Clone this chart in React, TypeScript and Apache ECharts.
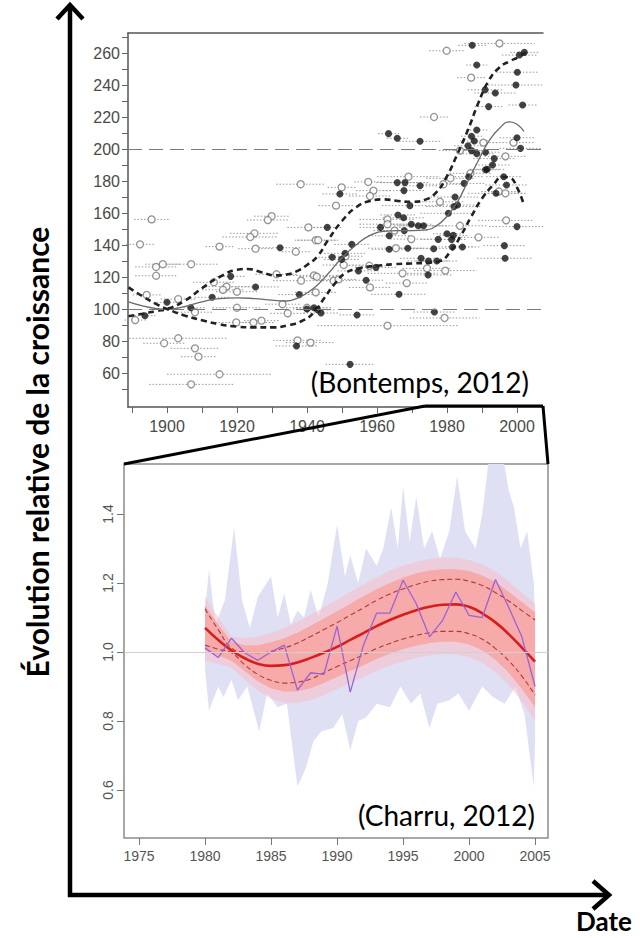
import React, { useEffect, useRef } from "react";
import * as echarts from "echarts";

// ---------- Top chart (Bontemps, 2012) ----------
const topXTicks = [1890, 1900, 1910, 1920, 1930, 1940, 1950, 1960, 1970, 1980, 1990, 2000];
const topXLabels = [1900, 1920, 1940, 1960, 1980, 2000];
const topYTicks = [50, 60, 70, 80, 90, 100, 110, 120, 130, 140, 150, 160, 170, 180, 190, 200, 210, 220, 230, 240, 250, 260, 270];
const topYLabels = [60, 80, 100, 120, 140, 160, 180, 200, 220, 240, 260];
const refLevels = [100, 200];

// [year, value, half-width of the dotted date interval]
const openPoints: [number, number, number][] = [
  [1895.6, 156, 5], [1929.9, 158, 5], [1928.8, 155.6, 6], [1938.2, 178, 7], [1940.4, 151, 6],
  [1995, 266, 10], [1979.9, 261.4, 5], [1986.9, 244.6, 4], [1976.3, 220, 4], [1990.4, 204, 4],
  [1983.7, 199, 6], [1999, 204, 6], [1996.7, 195.4, 6], [1986.7, 184.8, 6], [1994.8, 173.4, 5],
  [1996.7, 172.3, 6], [1981, 181.7, 7], [1979, 178, 6], [1969, 182.7, 9], [1957.5, 179.4, 4],
  [1949.9, 176, 4], [1959, 174, 5], [1958, 170.6, 6], [1948.3, 164.6, 5], [1978, 167, 7],
  [1996.9, 155.4, 8], [1963, 156, 8], [1963, 153, 8], [1983.7, 152, 8], [1892.3, 140.4, 4],
  [1896.9, 126.3, 6], [1898.8, 128, 5], [1906.9, 128, 8], [1896.9, 120.8, 6], [1894.2, 108.8, 4],
  [1903.2, 106.2, 5], [1908, 98, 5], [1890.9, 93.1, 3], [1903.2, 81.7, 14], [1899.2, 78.6, 6],
  [1908, 75.4, 7], [1909, 70.2, 5], [1915, 59.2, 15], [1906.9, 52.9, 12], [1913.4, 116.7, 6],
  [1917, 114, 7], [1916, 112, 6], [1920, 110.8, 6], [1915, 139, 4], [1920, 100.8, 7],
  [1919.8, 91.6, 6], [1924.7, 91.6, 6], [1927, 92.7, 5], [1925, 147.3, 7], [1923.8, 145, 8],
  [1925.3, 137.7, 5], [1936.8, 135.8, 4], [1942.5, 143, 6], [1931.3, 121.7, 6], [1938.3, 117.7, 8],
  [1942, 121, 7], [1933, 103, 5], [1934.5, 97.3, 5], [1940, 100.8, 6], [1942.5, 110.4, 6],
  [1937.3, 80.4, 7], [1941, 79, 7], [1943.2, 143, 6], [1951, 133, 5], [1950.5, 127.5, 6],
  [1957.8, 127, 6], [1942.8, 120.2, 5], [1947.6, 117.7, 5], [1949, 118.5, 5], [1958, 113.5, 6],
  [1967.3, 122.3, 10], [1968.5, 116.2, 6], [1974.3, 125.4, 7], [1979.5, 124, 9], [1979.3, 94.4, 10],
  [1963, 89.6, 20], [1965, 149, 6], [1969.8, 143.7, 6], [1965.4, 138, 8], [1989, 144.8, 6],
];

const filledPoints: [number, number, number][] = [
  [1987.2, 264.8, 4], [2000.7, 258.7, 5], [2002.1, 260.4, 4], [1988.5, 252.5, 3], [2000.1, 248, 6],
  [1999.7, 240, 8], [1990.9, 237, 5], [1993.8, 235, 6], [1991.9, 226.5, 4], [2001.6, 227.5, 4],
  [1963.3, 209.6, 3], [1965.8, 206.7, 3], [1972.3, 204.8, 6], [1988.5, 211.9, 3], [1987, 208, 3],
  [1987.8, 205, 4], [1986, 202, 4], [1987, 199, 5], [1988.5, 197, 5], [1991, 198, 4],
  [2000, 207, 5], [2001, 200.4, 6], [1993.5, 194, 6], [1993, 190, 5], [1991.5, 187.3, 5],
  [1991, 187, 4], [1986.2, 182.7, 4], [1996.2, 182.7, 5], [1997, 177.5, 6], [1994, 172.3, 8],
  [1984.9, 178.5, 6], [1965.8, 179, 6], [1968, 179, 7], [1967.7, 174, 6], [1972.3, 177, 5],
  [1949.4, 171.9, 5], [1982.3, 170, 7], [1983, 165, 6], [1982, 164, 8], [1980.4, 159.8, 8],
  [1969.4, 164.6, 8], [2000, 151.5, 8], [1966, 158.8, 5], [1967.6, 157, 6], [1969.8, 153, 6],
  [1971.8, 152, 7], [1973.3, 152, 7], [1945.8, 151, 4], [1961, 151, 6], [1900, 104.2, 3],
  [1906.8, 100.8, 4], [1893.7, 95.8, 3], [1912.9, 107.3, 5], [1918.2, 120.4, 4], [1925.3, 113.8, 7],
  [1932.3, 138.3, 6], [1937.8, 109, 6], [1942, 100.8, 5], [1937, 76.9, 6], [1952.8, 140.4, 5],
  [1950.9, 134.8, 6], [1947.2, 132.3, 4], [1949.9, 131, 5], [1954.7, 123.8, 6], [1959.7, 126, 6],
  [1956.9, 118, 5], [1966.3, 109.2, 8], [1940, 100, 4], [1943, 99.5, 5], [1944, 97.5, 5],
  [1954.3, 96.3, 5], [1976.4, 98.1, 6], [1952.3, 65.4, 7], [1963.5, 145.8, 6], [1967.8, 149, 7],
  [1977.5, 143.5, 5], [1963.5, 137.3, 5], [1968.8, 138, 6], [1976.2, 137.7, 6], [1981.6, 138.8, 6],
  [1984.4, 138.8, 5], [1981.3, 143.5, 4], [1980, 147, 4], [1981.8, 146, 4], [1996.4, 139.6, 6],
  [1996.6, 131.7, 8], [1972.6, 131.7, 6], [1974.7, 130, 6], [1977.1, 130, 6], [1974.6, 121.3, 7],
];

const meanCurve: [number, number][] = [
  [1889, 104.5], [1893, 102], [1897, 100.3], [1900, 99.8], [1905, 101.5], [1910, 104.5], [1915, 106.5],
  [1920, 107], [1925, 106.5], [1930, 105.5], [1934, 105], [1937, 106.5], [1940, 110], [1943, 115],
  [1946, 122], [1950, 132], [1954, 140], [1958, 146], [1962, 148.5], [1966, 149], [1970, 149],
  [1974, 149.5], [1977, 152], [1980, 158], [1983, 167], [1986, 180], [1989, 193], [1992, 205],
  [1995, 213], [1998, 217], [2000, 215.5], [2002, 211],
];
const upperCurve: [number, number][] = [
  [1889, 95.5], [1893, 97], [1897, 98.8], [1900, 100], [1905, 105], [1910, 113], [1915, 120],
  [1920, 124.5], [1923, 125], [1927, 123], [1931, 121], [1934, 121.5], [1937, 123.5], [1940, 127.5],
  [1943, 133], [1946, 143], [1950, 155], [1954, 163.5], [1958, 167.5], [1962, 168.5], [1966, 167.5],
  [1970, 167], [1974, 168.5], [1977, 173], [1980, 183], [1983, 197], [1986, 212], [1989, 229],
  [1992, 243], [1995, 251], [1998, 255], [2000, 257], [2003, 261],
];
const lowerCurve: [number, number][] = [
  [1889, 113.5], [1893, 108], [1897, 103], [1900, 100], [1905, 96], [1910, 93], [1915, 90.5],
  [1920, 89], [1925, 88.5], [1930, 88.5], [1935, 90], [1939, 93], [1942, 98], [1945, 107],
  [1948, 116], [1951, 122.5], [1955, 125.5], [1960, 127], [1965, 128], [1970, 128.5], [1975, 129],
  [1978, 130], [1981, 136], [1984, 146], [1987, 158], [1990, 169], [1993, 177], [1996, 182.5],
  [1998, 182], [2000, 176], [2002, 165],
];

// ---------- Bottom chart (Charru, 2012) ----------
const bottomXTicks = [1975, 1980, 1985, 1990, 1995, 2000, 2005];
const bottomYTicks = [0.6, 0.8, 1.0, 1.2, 1.4];
const years = [1980, 1981, 1982, 1983, 1984, 1985, 1986, 1987, 1988, 1989, 1990, 1991, 1992,
  1993, 1994, 1995, 1996, 1997, 1998, 1999, 2000, 2001, 2002, 2003, 2004, 2005];
const fittedMean = [1.07, 1.035, 1.005, 0.982, 0.966, 0.96, 0.962, 0.97, 0.983, 0.998, 1.015, 1.035, 1.055,
  1.075, 1.093, 1.108, 1.121, 1.131, 1.137, 1.138, 1.131, 1.112, 1.086, 1.052, 1.013, 0.972];
const ciUpper = [1.125, 1.065, 1.012, 1.0, 0.998, 1.002, 1.012, 1.026, 1.045, 1.065, 1.085, 1.107, 1.128,
  1.15, 1.168, 1.183, 1.196, 1.205, 1.21, 1.211, 1.205, 1.193, 1.172, 1.148, 1.12, 1.093];
const ciLower = [1.02, 1.008, 0.998, 0.963, 0.935, 0.918, 0.91, 0.913, 0.922, 0.94, 0.958, 0.975, 0.992,
  1.01, 1.025, 1.038, 1.048, 1.056, 1.06, 1.06, 1.053, 1.037, 1.01, 0.975, 0.93, 0.875];
const pinkUpper = [1.135, 1.08, 1.03, 1.02, 1.02, 1.028, 1.04, 1.056, 1.076, 1.097, 1.118, 1.14, 1.162,
  1.183, 1.2, 1.215, 1.228, 1.236, 1.24, 1.24, 1.235, 1.222, 1.203, 1.175, 1.145, 1.115];
const pinkLower = [1.005, 0.99, 0.975, 0.945, 0.915, 0.895, 0.885, 0.886, 0.895, 0.91, 0.928, 0.945, 0.962,
  0.98, 0.995, 1.008, 1.018, 1.026, 1.03, 1.03, 1.022, 1.005, 0.978, 0.94, 0.893, 0.84];
const haloUpper = [1.16, 1.1, 1.045, 1.04, 1.045, 1.055, 1.07, 1.088, 1.108, 1.13, 1.152, 1.174, 1.196,
  1.217, 1.236, 1.25, 1.262, 1.27, 1.274, 1.273, 1.267, 1.254, 1.234, 1.205, 1.172, 1.14];
const haloLower = [0.975, 0.965, 0.955, 0.92, 0.888, 0.865, 0.853, 0.852, 0.86, 0.875, 0.893, 0.91, 0.927,
  0.945, 0.96, 0.973, 0.983, 0.99, 0.994, 0.993, 0.985, 0.968, 0.942, 0.905, 0.857, 0.8];
const observed = [1.012, 0.984, 1.04, 0.998, 0.976, 1.0, 1.02, 0.89, 0.94, 0.935, 1.075, 0.884, 1.02,
  1.113, 1.113, 1.208, 1.14, 1.044, 1.092, 1.174, 1.106, 1.1, 1.21, 1.13, 1.044, 0.9];

const lavenderUpper: [number, number][] = [
  [1980, 1.12], [1980.3, 1.24], [1980.8, 1.08], [1981.5, 1.15], [1982.2, 1.36], [1982.8, 1.15],
  [1983.4, 1.07], [1984, 1.16], [1985, 1.22], [1985.5, 1.1], [1986, 1.17], [1986.5, 1.08], [1987, 1.12],
  [1987.5, 1.1], [1988, 1.18], [1988.6, 1.1], [1989.3, 1.2], [1990, 1.37], [1990.6, 1.22], [1991, 1.28],
  [1991.6, 1.2], [1992.2, 1.3], [1993, 1.25], [1993.5, 1.3], [1994.1, 1.42], [1994.6, 1.3], [1995, 1.48],
  [1995.5, 1.32], [1996, 1.45], [1996.6, 1.3], [1997.2, 1.35], [1997.8, 1.27], [1998.5, 1.35],
  [1999.1, 1.51], [1999.7, 1.35], [2000.5, 1.3], [2001, 1.4], [2001.5, 1.56], [2002.6, 1.56],
  [2003, 1.47], [2003.4, 1.42], [2003.9, 1.3], [2004.4, 1.35], [2004.9, 1.2], [2005, 1.1],
];
const lavenderLower: [number, number][] = [
  [1980, 0.95], [1980.3, 0.83], [1981, 0.9], [1981.4, 0.87], [1982, 0.92], [1982.5, 0.86], [1983.2, 0.9],
  [1984.1, 0.77], [1984.7, 0.88], [1985.5, 0.84], [1986.2, 0.85], [1987, 0.61], [1987.6, 0.66],
  [1988.2, 0.74], [1988.8, 0.77], [1989.7, 0.78], [1990.4, 0.82], [1991, 0.715], [1991.6, 0.8],
  [1992.2, 0.81], [1993, 0.85], [1994, 0.84], [1994.8, 0.9], [1995.6, 0.85], [1996.3, 0.88], [1997, 0.78],
  [1997.6, 0.85], [1998.5, 0.86], [1999.2, 0.88], [2000, 0.83], [2001, 0.9], [2001.8, 0.87],
  [2002.7, 0.85], [2003.5, 0.9], [2004.2, 0.82], [2004.9, 0.61], [2005, 0.75],
];

const zip = (xs: number[], ys: number[]) => xs.map((x, i) => [x, ys[i]] as [number, number]);

const polygonSeries = (upper: [number, number][], lower: [number, number][], fill: string, extra: any = {}) => ({
  type: "custom",
  xAxisIndex: 2,
  yAxisIndex: 1,
  clip: true,
  silent: true,
  data: [upper[0]],
  renderItem: (_p: any, api: any) => {
    const pts = upper.map((p) => api.coord(p)).concat(lower.slice().reverse().map((p) => api.coord(p)));
    return { type: "polygon", shape: { points: pts }, style: { fill } };
  },
  ...extra,
});

const App: React.FC = () => {
  const ref = useRef<HTMLDivElement>(null);
  useEffect(() => {
    if (!ref.current) return;
    const chart = echarts.init(ref.current, undefined, { renderer: "svg" });
    const tickFont = "Liberation Sans";
    const errorBars = [...openPoints, ...filledPoints];

    const option: any = {
      animation: false,
      backgroundColor: "#ffffff",
      grid: [
        { left: 128, top: 33, width: 415, height: 374 },
        { left: 124, top: 464, width: 424, height: 374, show: true, borderColor: "#8c8c8c", borderWidth: 1.5 },
      ],
      xAxis: [
        {
          gridIndex: 0, type: "value", min: 1888.86, max: 2007.43,
          axisLine: { show: true, lineStyle: { color: "#555", width: 1.5 } },
          axisTick: { show: true, customValues: topXTicks, length: 6, lineStyle: { color: "#666" } },
          axisLabel: { customValues: topXLabels, formatter: (v: number) => String(v), fontSize: 16, color: "#4a4a4a", fontFamily: tickFont, margin: 11 },
          splitLine: { show: false },
        },
        {
          gridIndex: 0, type: "value", position: "top", min: 1888.86, max: 2007.43,
          axisLine: { show: true, lineStyle: { color: "#555", width: 1.5 } },
          axisTick: { show: false }, axisLabel: { show: false }, splitLine: { show: false },
        },
        {
          gridIndex: 1, type: "value", min: 1973.86, max: 2005.98,
          axisLine: { show: false },
          axisTick: { show: true, customValues: bottomXTicks, length: 7, lineStyle: { color: "#777" } },
          axisLabel: { customValues: bottomXTicks, formatter: (v: number) => String(v), fontSize: 14, color: "#555", fontFamily: tickFont, margin: 11 },
          splitLine: { show: false },
        },
      ],
      yAxis: [
        {
          gridIndex: 0, type: "value", min: 38.75, max: 272.5,
          axisLine: { show: true, lineStyle: { color: "#555", width: 1.5 } },
          axisTick: { show: true, customValues: topYTicks, length: 6, lineStyle: { color: "#666" } },
          axisLabel: { customValues: topYLabels, formatter: (v: number) => String(v), fontSize: 16, color: "#4a4a4a", fontFamily: tickFont, margin: 8 },
          splitLine: { show: false },
        },
        {
          gridIndex: 1, type: "value", min: 0.461, max: 1.545,
          axisLine: { show: false },
          axisTick: { show: true, customValues: bottomYTicks, length: 7, lineStyle: { color: "#777" } },
          axisLabel: { customValues: bottomYTicks, formatter: (v: number) => v.toFixed(1), rotate: 90, fontSize: 14, color: "#555", fontFamily: tickFont, margin: 9 },
          splitLine: { show: false },
        },
      ],
      series: [
        // ---- top chart
        {
          type: "custom", xAxisIndex: 0, yAxisIndex: 0, silent: true,
          data: errorBars,
          encode: { x: 0, y: 1 },
          renderItem: (_p: any, api: any) => {
            const x = api.value(0), y = api.value(1), hw = api.value(2);
            const a = api.coord([x - hw, y]);
            const b = api.coord([x + hw, y]);
            return { type: "line", shape: { x1: a[0], y1: a[1], x2: b[0], y2: b[1] }, style: { stroke: "#9a9a9a", lineWidth: 1, lineDash: [1.5, 1.8] } };
          },
        },
        {
          type: "scatter", xAxisIndex: 0, yAxisIndex: 0, symbol: "circle", symbolSize: 7, silent: true,
          data: openPoints.map((p) => [p[0], p[1]]),
          itemStyle: { color: "#ffffff", borderColor: "#7a7a7a", borderWidth: 1.3 },
        },
        {
          type: "scatter", xAxisIndex: 0, yAxisIndex: 0, symbol: "circle", symbolSize: 7, silent: true,
          data: filledPoints.map((p) => [p[0], p[1]]),
          itemStyle: { color: "#141414" },
        },
        {
          type: "line", xAxisIndex: 0, yAxisIndex: 0, data: meanCurve, smooth: true, showSymbol: false, silent: true,
          lineStyle: { color: "#6a6a6a", width: 1.3 },
          markLine: {
            silent: true, symbol: "none", label: { show: false },
            lineStyle: { color: "#7a7a7a", width: 1.2, type: [14, 7] },
            data: refLevels.map((v) => ({ yAxis: v })),
          },
        },
        {
          type: "line", xAxisIndex: 0, yAxisIndex: 0, data: upperCurve, smooth: true, showSymbol: false, silent: true,
          lineStyle: { color: "#222", width: 2.6, type: [6, 4] },
        },
        {
          type: "line", xAxisIndex: 0, yAxisIndex: 0, data: lowerCurve, smooth: true, showSymbol: false, silent: true,
          lineStyle: { color: "#222", width: 2.6, type: [6, 4] },
        },
        // ---- bottom chart
        polygonSeries(lavenderUpper, lavenderLower, "#dfe0f4", {
          markLine: {
            silent: true, symbol: "none", label: { show: false },
            lineStyle: { color: "#d0d0d0", width: 1, type: "solid" },
            data: [{ yAxis: 1 }],
          },
        }),
        polygonSeries(zip(years, haloUpper), zip(years, haloLower), "rgba(248,190,200,0.55)"),
        polygonSeries(zip(years, pinkUpper), zip(years, pinkLower), "#f6aaaa"),
        {
          type: "line", xAxisIndex: 2, yAxisIndex: 1, data: zip(years, ciUpper), smooth: true, showSymbol: false, silent: true,
          lineStyle: { color: "#b03a3a", width: 1.1, type: [5, 3] },
        },
        {
          type: "line", xAxisIndex: 2, yAxisIndex: 1, data: zip(years, ciLower), smooth: true, showSymbol: false, silent: true,
          lineStyle: { color: "#b03a3a", width: 1.1, type: [5, 3] },
        },
        {
          type: "line", xAxisIndex: 2, yAxisIndex: 1, data: zip(years, fittedMean), smooth: true, showSymbol: false, silent: true,
          lineStyle: { color: "#d41f1f", width: 2.6 },
        },
        {
          type: "line", xAxisIndex: 2, yAxisIndex: 1, data: zip(years, observed), smooth: false, showSymbol: false, silent: true,
          lineStyle: { color: "#9b62d6", width: 1.3 },
        },
      ],
      graphic: [
        { type: "line", z: 100, shape: { x1: 425, y1: 406, x2: 124, y2: 464 }, style: { stroke: "#000", lineWidth: 3 } },
        { type: "line", z: 100, shape: { x1: 543, y1: 406, x2: 548, y2: 464 }, style: { stroke: "#000", lineWidth: 3 } },
        { type: "line", z: 100, shape: { x1: 425, y1: 406, x2: 543, y2: 406 }, style: { stroke: "#000", lineWidth: 3 } },
        { type: "polyline", z: 100, shape: { points: [[70, 6], [70, 895], [609, 895]] }, style: { stroke: "#000", lineWidth: 4.5, fill: null, lineJoin: "miter" } },
        { type: "polyline", z: 100, shape: { points: [[57, 19], [70, 5], [83, 19]] }, style: { stroke: "#000", lineWidth: 4.5, fill: null } },
        { type: "polyline", z: 100, shape: { points: [[593, 881], [609, 895], [593, 909]] }, style: { stroke: "#000", lineWidth: 4.5, fill: null } },
        {
          type: "text", z: 100, x: 37, y: 452, rotation: Math.PI / 2,
          style: { text: "Évolution relative de la croissance", font: "bold 30px Lato", fill: "#000", align: "center", verticalAlign: "middle", textAlign: "center", textVerticalAlign: "middle" },
        },
        {
          type: "text", z: 100, x: 604, y: 921,
          style: { text: "Date", font: "bold 26px Lato", fill: "#000", align: "center", verticalAlign: "middle", textAlign: "center", textVerticalAlign: "middle" },
        },
        {
          type: "text", z: 100, x: 529, y: 382,
          style: { text: "(Bontemps, 2012)", font: "28px Lato", fill: "#000", align: "right", verticalAlign: "middle", textAlign: "right", textVerticalAlign: "middle" },
        },
        {
          type: "text", z: 100, x: 535, y: 815,
          style: { text: "(Charru, 2012)", font: "28px Lato", fill: "#000", align: "right", verticalAlign: "middle", textAlign: "right", textVerticalAlign: "middle" },
        },
      ],
    };
    chart.setOption(option);
    return () => chart.dispose();
  }, []);
  return <div ref={ref} style={{ position: "absolute", left: 0, top: 0, width: 644, height: 938 }} />;
};

export default App;
